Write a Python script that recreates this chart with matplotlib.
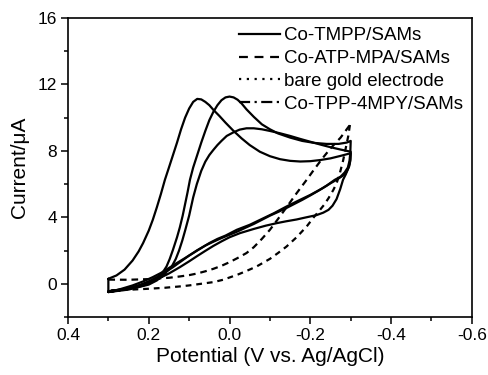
import matplotlib
matplotlib.use("Agg")
from matplotlib import pyplot as plt
from matplotlib.lines import Line2D
from matplotlib.ticker import MultipleLocator

plt.rcParams['font.family'] = ['Liberation Sans', 'DejaVu Sans']

# Co-TMPP/SAMs, peak near 0.08 V (forward sweep, then return sweep)
tmppPot = [0.30, 0.28, 0.26, 0.24, 0.225, 0.214, 0.20, 0.19, 0.18, 0.17, 0.16, 0.15, 0.14, 0.13,
           0.12, 0.11, 0.10, 0.09, 0.08, 0.07, 0.06, 0.05, 0.04, 0.025, 0.01, -0.01, -0.03, -0.05,
           -0.075, -0.10, -0.125, -0.15, -0.175, -0.20, -0.225, -0.25, -0.275, -0.30,
           -0.299, -0.296, -0.29, -0.28, -0.265, -0.25, -0.23, -0.20, -0.17, -0.141, -0.11, -0.08,
           -0.05, -0.018, 0.01, 0.03, 0.05, 0.07, 0.09, 0.11, 0.131, 0.15, 0.17, 0.19, 0.214, 0.24,
           0.27, 0.30, 0.30]
tmppCur = [0.30, 0.50, 0.85, 1.40, 1.95, 2.45, 3.20, 3.85, 4.60, 5.40, 6.26, 7.00, 7.75, 8.50,
           9.30, 10.00, 10.55, 10.95, 11.13, 11.10, 10.95, 10.75, 10.47, 10.10, 9.70, 9.20, 8.75, 8.35,
           7.95, 7.68, 7.50, 7.40, 7.36, 7.38, 7.45, 7.55, 7.70, 7.86,
           7.40, 7.05, 6.75, 6.50, 6.26, 6.05, 5.75, 5.35, 5.00, 4.65, 4.25, 3.90,
           3.55, 3.25, 2.90, 2.70, 2.45, 2.15, 1.85, 1.55, 1.24, 0.95, 0.65, 0.40, 0.14, -0.10,
           -0.32, -0.50, 0.30]

# Co-TPP-4MPY/SAMs, peak near 0.0 V
mpyPot = [0.30, 0.25, 0.22, 0.20, 0.185, 0.175, 0.165, 0.156, 0.148, 0.14, 0.13, 0.123, 0.116, 0.11,
          0.104, 0.098, 0.09, 0.08, 0.07, 0.06, 0.05, 0.04, 0.03, 0.02, 0.01, 0.0, -0.01, -0.02,
          -0.03, -0.042, -0.06, -0.08, -0.10, -0.12, -0.15, -0.18, -0.21, -0.24, -0.27, -0.29, -0.30,
          -0.299, -0.297, -0.293, -0.285, -0.275, -0.26, -0.24, -0.22, -0.20, -0.18, -0.16, -0.14,
          -0.12, -0.10, -0.08, -0.06, -0.04, -0.02, 0.0, 0.02, 0.04, 0.06, 0.08, 0.10, 0.12, 0.14,
          0.16, 0.18, 0.20, 0.22, 0.24, 0.27, 0.30]
mpyCur = [-0.45, -0.30, -0.15, 0.00, 0.20, 0.40, 0.70, 1.04, 1.50, 2.05, 2.80, 3.40, 4.10, 4.80,
          5.50, 6.26, 7.00, 7.75, 8.50, 9.20, 9.85, 10.35, 10.75, 11.05, 11.22, 11.27, 11.22, 11.08,
          10.85, 10.50, 10.05, 9.60, 9.30, 9.05, 8.80, 8.60, 8.48, 8.42, 8.42, 8.50, 8.60,
          7.90, 7.40, 7.00, 6.70, 6.45, 6.25, 5.90, 5.60, 5.32, 5.05, 4.80, 4.55,
          4.32, 4.10, 3.85, 3.60, 3.38, 3.15, 2.95, 2.75, 2.53, 2.30, 2.02, 1.70, 1.35, 1.00,
          0.68, 0.40, 0.15, -0.05, -0.20, -0.35, -0.45]

# third peaked curve, peak near -0.04 V
thirdPot = [0.30, 0.25, 0.20, 0.18, 0.165, 0.155, 0.143, 0.133, 0.125, 0.117, 0.11, 0.10, 0.09, 0.081,
            0.07, 0.06, 0.05, 0.04, 0.03, 0.02, 0.007, -0.01, -0.025, -0.042, -0.06, -0.08, -0.10,
            -0.125, -0.15, -0.175, -0.20, -0.225, -0.25, -0.275, -0.30,
            -0.299, -0.297, -0.293, -0.288, -0.281, -0.274, -0.265, -0.255, -0.245, -0.232, -0.215,
            -0.19, -0.166, -0.14, -0.117, -0.09, -0.06, -0.026, 0.0, 0.02, 0.04, 0.06, 0.08, 0.10,
            0.123, 0.15, 0.17, 0.20, 0.225, 0.25, 0.275, 0.30]
thirdCur = [-0.50, -0.35, -0.05, 0.20, 0.50, 0.75, 1.04, 1.50, 2.00, 2.60, 3.20, 4.10, 5.20, 6.00,
            6.80, 7.35, 7.75, 8.06, 8.35, 8.60, 8.90, 9.12, 9.28, 9.36, 9.36, 9.30, 9.20,
            9.06, 8.90, 8.72, 8.55, 8.38, 8.22, 8.08, 7.95,
            7.50, 7.20, 6.90, 6.60, 6.26, 5.70, 5.10, 4.70, 4.45, 4.28, 4.13,
            4.00, 3.87, 3.76, 3.65, 3.50, 3.30, 3.05, 2.80, 2.55, 2.28, 1.98, 1.67, 1.35,
            1.00, 0.62, 0.38, 0.08, -0.12, -0.28, -0.40, -0.50]

# Co-ATP-MPA/SAMs (dashed)
atpPot = [0.30, 0.25, 0.20, 0.15, 0.123, 0.10, 0.08, 0.06, 0.04, 0.02, 0.0, -0.02, -0.042, -0.06,
          -0.08, -0.10, -0.12, -0.141, -0.166, -0.191, -0.21, -0.23, -0.25, -0.275, -0.298]
atpCur = [0.25, 0.24, 0.28, 0.36, 0.44, 0.52, 0.62, 0.75, 0.90, 1.08, 1.30, 1.55, 1.85, 2.20,
          2.70, 3.25, 3.90, 4.60, 5.45, 6.26, 6.90, 7.55, 8.15, 8.80, 9.56]

# bare gold electrode (dotted)
goldPot = [-0.298, -0.294, -0.288, -0.281, -0.273, -0.265, -0.257, -0.245, -0.234, -0.224, -0.21,
           -0.191, -0.166, -0.141, -0.12, -0.10, -0.067, -0.04, -0.02, 0.016, 0.04, 0.07, 0.10,
           0.123, 0.16, 0.20, 0.25, 0.30]
goldCur = [9.56, 8.90, 8.20, 7.40, 6.65, 6.05, 5.65, 5.15, 4.75, 4.45, 4.05,
           3.45, 2.80, 2.24, 1.85, 1.50, 1.04, 0.75, 0.55, 0.24, 0.10, 0.0, -0.10,
           -0.16, -0.24, -0.30, -0.36, -0.40]

legendNames = ['Co-TMPP/SAMs', 'Co-ATP-MPA/SAMs', 'bare gold electrode', 'Co-TPP-4MPY/SAMs']

fig = plt.figure(figsize=(4.89, 3.75), dpi=100)
ax = fig.add_axes([0.139, 0.1547, 0.826, 0.7973])

lw = 1.6
for p, c in [(tmppPot, tmppCur), (mpyPot, mpyCur), (thirdPot, thirdCur)]:
    ax.plot(p, c, color='black', lw=lw, solid_joinstyle='round', solid_capstyle='round')
ax.plot(atpPot, atpCur, color='black', lw=lw, dashes=(3, 2.2))
ax.plot(goldPot, goldCur, color='black', lw=lw, dashes=(2.6, 2.2))

ax.set_xlim(0.4, -0.6)
ax.set_ylim(-2, 16)
ax.set_xticks([0.4, 0.2, 0.0, -0.2, -0.4, -0.6])
ax.set_xticklabels(['0.4', '0.2', '0.0', '-0.2', '-0.4', '-0.6'])
ax.xaxis.set_minor_locator(MultipleLocator(0.1))
ax.yaxis.set_major_locator(MultipleLocator(4))
ax.yaxis.set_minor_locator(MultipleLocator(2))
ax.tick_params(which='major', direction='out', length=5, width=1.1, labelsize=12.5, pad=3)
ax.tick_params(which='minor', direction='out', length=3, width=1.1)
for s in ax.spines.values():
    s.set_linewidth(1.2)

ax.set_xlabel('Potential (V vs. Ag/AgCl)', fontsize=15, labelpad=3)
ax.set_ylabel('Current/μA', fontsize=15, labelpad=6)

handles = [Line2D([], [], color='black', lw=lw),
           Line2D([], [], color='black', lw=lw, dashes=(4, 3)),
           Line2D([], [], color='black', lw=lw, dashes=(1, 2.5)),
           Line2D([], [], color='black', lw=lw, dashes=(5, 2, 1, 2))]
ax.legend(handles, legendNames, loc='upper right', frameon=False, fontsize=13.5,
          handlelength=2.2, handletextpad=0.2, labelspacing=0.3,
          borderaxespad=0.1, bbox_to_anchor=(1.0, 1.0))

fig.savefig('out.png', dpi=100)
